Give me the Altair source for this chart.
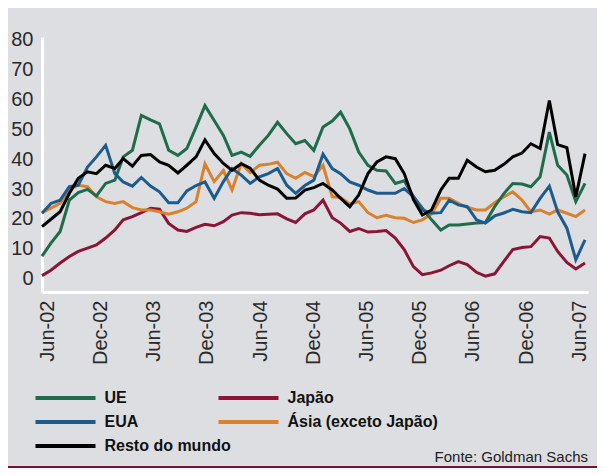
import altair as alt
import pandas as pd

# ---- data (monthly, Jun-02 .. Jun-07) ----
dates = pd.date_range("2002-06-01", "2007-06-01", freq="MS").strftime("%Y-%m-%d").tolist()

ue = [7.5, 11.9, 15.8, 26.3, 28.8, 29.9, 27.7, 31.9, 33.0, 40.8,
      43.0, 54.7, 53.2, 51.9, 43.0, 41.3, 43.6, 50.8, 58.0, 53.0,
      48.0, 41.3, 42.4, 41.0, 44.7, 48.0, 52.4, 48.6, 45.2, 46.3,
      43.0, 50.8, 52.8, 55.8, 50.2, 42.4, 38.0, 36.3, 36.1, 31.9,
      32.8, 27.5, 23.6, 19.7, 16.3, 18.0, 18.0, 18.3, 18.6, 18.8,
      24.1, 28.5, 31.9, 31.7, 30.8, 34.1, 49.1, 38.0, 34.7, 25.8,
      31.9]
japao = [1.0, 2.8, 5.2, 7.4, 9.1, 10.2, 11.3, 13.6, 16.3, 19.7,
         20.8, 22.1, 23.6, 23.3, 18.5, 16.3, 15.8, 17.2, 18.2, 17.7,
         19.1, 21.3, 22.1, 21.9, 21.4, 21.6, 21.7, 20.0, 18.8, 21.7,
         23.0, 26.3, 20.4, 18.6, 15.8, 16.8, 15.6, 15.8, 16.1, 13.6,
         9.7, 4.0, 1.3, 1.9, 2.8, 4.3, 5.7, 4.7, 2.1, 0.8,
         1.6, 5.8, 9.7, 10.4, 10.7, 14.1, 13.6, 9.1, 5.4, 3.2,
         5.2]
eua = [21.9, 25.2, 26.3, 30.8, 31.3, 37.4, 40.8, 44.7, 35.2, 32.4,
       31.0, 33.9, 31.0, 29.1, 25.4, 25.4, 29.4, 31.2, 32.4, 26.9,
       32.5, 36.9, 34.7, 31.9, 34.1, 35.2, 36.9, 31.3, 28.6, 31.2,
       33.0, 41.7, 36.9, 35.2, 32.4, 31.3, 29.7, 28.6, 28.6, 28.6,
       30.2, 27.5, 23.0, 21.9, 22.1, 26.3, 24.7, 24.1, 19.7, 18.6,
       21.0, 22.0, 23.2, 22.4, 22.1, 26.9, 31.0, 22.4, 16.9, 6.3,
       13.0]
asia = [22.1, 23.6, 25.2, 29.9, 31.3, 30.8, 27.4, 25.8, 25.2, 25.8,
        23.8, 23.0, 23.0, 22.4, 21.6, 22.4, 23.6, 25.8, 38.5, 32.5,
        36.3, 29.7, 38.6, 35.5, 38.0, 38.3, 39.0, 35.2, 33.6, 35.6,
        34.2, 38.0, 27.4, 27.2, 25.0, 25.8, 22.1, 20.4, 21.2, 20.4,
        20.2, 18.8, 19.7, 21.7, 26.9, 26.9, 25.2, 23.9, 23.0, 23.0,
        25.4, 27.4, 29.1, 26.3, 22.4, 23.0, 21.6, 23.0, 21.9, 20.8,
        23.0]
resto = [17.4, 19.9, 22.4, 28.6, 33.6, 35.8, 35.2, 38.0, 36.9, 40.2,
         37.7, 41.3, 41.6, 39.1, 38.0, 35.4, 38.0, 40.8, 46.5, 41.9,
         38.6, 36.3, 38.5, 37.0, 33.0, 31.3, 30.0, 26.9, 27.0, 29.7,
         30.5, 31.9, 29.7, 26.9, 24.1, 28.0, 35.2, 39.1, 40.8, 40.2,
         35.2, 26.5, 21.3, 23.0, 29.7, 33.6, 33.6, 39.7, 37.4, 35.8,
         36.3, 38.3, 40.8, 42.1, 45.2, 43.6, 59.7, 44.9, 43.9, 27.4,
         41.9]

series_names = ["UE", "Japão", "EUA", "Ásia (exceto Japão)", "Resto do mundo"]
series_values = [ue, japao, eua, asia, resto]
series_colors = {"UE": "#1e6b4d", "Japão": "#8a1538", "EUA": "#1d5b8c",
                 "Ásia (exceto Japão)": "#d9822e", "Resto do mundo": "#000000"}
y_ticks = [0, 10, 20, 30, 40, 50, 60, 70, 80]
x_tick_dates = [(2002, 6), (2002, 12), (2003, 6), (2003, 12), (2004, 6), (2004, 12),
                (2005, 6), (2005, 12), (2006, 6), (2006, 12), (2007, 6)]
source_text = "Fonte: Goldman Sachs"

rows = []
for name, vals in zip(series_names, series_values):
    for d, v in zip(dates, vals):
        rows.append({"date": d, "serie": name, "valor": v})
df = pd.DataFrame(rows)

group_a = ["UE", "EUA", "Resto do mundo"]
group_b = ["Japão", "Ásia (exceto Japão)"]

FONT = "Liberation Sans"
BG = "#dddee1"

label_shift = alt.ExprRef(
    "5 - 10.6 * (datum.value - utc(2002, 5, 1)) / (utc(2007, 5, 1) - utc(2002, 5, 1))"
)

x_enc = alt.X(
    "date:T",
    title=None,
    scale=alt.Scale(type="utc", domain=[alt.DateTime(year=2002, month=6, date=1, utc=True),
                                        alt.DateTime(year=2007, month=6, date=11, utc=True)]),
    axis=alt.Axis(values=[alt.DateTime(year=y, month=m, date=1, utc=True) for y, m in x_tick_dates],
                  labelExpr="utcFormat(datum.value, '%b-%y')", labelAngle=270, labelFontSize=20,
                  labelFont=FONT, labelColor="#2a2a2a", labelPadding=8, labelOffset=label_shift,
                  ticks=False, grid=False, domainColor="white", domainWidth=3,
                  labelOverlap=False, labelFlush=False),
)
y_enc = alt.Y(
    "valor:Q",
    title=None,
    scale=alt.Scale(domain=[-4.5, 81], nice=False, zero=False),
    axis=alt.Axis(values=y_ticks, labelFontSize=20, labelFont=FONT, labelColor="#2a2a2a",
                  labelPadding=9, ticks=False, grid=False, domainColor="white", domainWidth=3),
)


def legend(x, y):
    return alt.Legend(orient="none", legendX=x, legendY=y, title=None, padding=0,
                      symbolType="M-1,0H9", symbolSize=144, symbolStrokeWidth=4,
                      labelOffset=55, rowPadding=8, labelFontSize=16, labelFontWeight="bold",
                      labelFont=FONT, labelColor="#111111", labelLimit=300)


line_b = alt.Chart(df).transform_filter(
    alt.FieldOneOfPredicate(field="serie", oneOf=group_b)
).mark_line(strokeWidth=3).encode(
    x=x_enc, y=y_enc,
    color=alt.Color("serie:N", scale=alt.Scale(domain=group_b, range=[series_colors[s] for s in group_b]),
                    legend=legend(174.5, 353)),
)

line_a = alt.Chart(df).transform_filter(
    alt.FieldOneOfPredicate(field="serie", oneOf=group_a)
).mark_line(strokeWidth=3).encode(
    x=x_enc, y=y_enc,
    color=alt.Color("serie:N", scale=alt.Scale(domain=group_a, range=[series_colors[s] for s in group_a]),
                    legend=legend(-8.5, 353)),
)

bottom_rule = alt.Chart(alt.Data(values=[{}])).mark_rule(color="#7a1030", strokeWidth=2).encode(
    x=alt.value(-34), x2=alt.value(555), y=alt.value(430)
)

chart = alt.layer(line_b, line_a, bottom_rule).resolve_scale(color="independent").properties(
    width=546, height=255,
    autosize=alt.AutoSizeParams(type="none"),
    padding={"left": 34, "top": 29, "right": 9, "bottom": 176},
    background=BG,
    title=alt.TitleParams(source_text, orient="bottom", anchor="end", frame="group",
                          fontSize=15, fontWeight="normal", font=FONT, color="#222222", offset=-18),
).configure_view(stroke=None)

chart.save("out.html", embed_options={"renderer": "svg", "actions": False})
